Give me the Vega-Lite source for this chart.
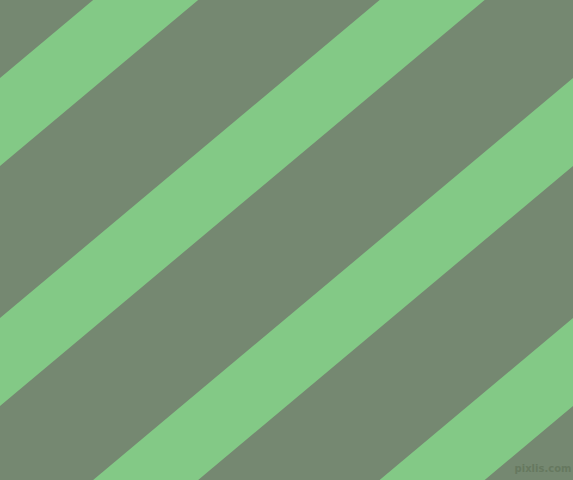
{
  "$schema": "https://vega.github.io/schema/vega-lite/v6.json",
  "description": "Diagonal light green stripes on a grey-green ground.",
  "width": 573,
  "height": 480,
  "autosize": {"type": "fit", "contains": "padding"},
  "padding": 0,
  "background": "#758871",
  "config": {"view": {"stroke": null}},
  "datasets": {
    "stripes": [
      {"band": 1, "x": 0, "top": 78, "bottom": 166},
      {"band": 1, "x": 573, "top": -402, "bottom": -314},
      {"band": 2, "x": 0, "top": 318, "bottom": 406},
      {"band": 2, "x": 573, "top": -162, "bottom": -74},
      {"band": 3, "x": 0, "top": 558, "bottom": 646},
      {"band": 3, "x": 573, "top": 78, "bottom": 166},
      {"band": 4, "x": 0, "top": 798, "bottom": 886},
      {"band": 4, "x": 573, "top": 318, "bottom": 406}
    ],
    "credit": [
      {"x": 543, "y": 469, "label": "pixlis.com"}
    ]
  },
  "layer": [
    {
      "data": {"name": "stripes"},
      "mark": {"type": "area", "color": "#83c986", "clip": true, "opacity": 1},
      "encoding": {
        "x": {"field": "x", "type": "quantitative", "scale": {"domain": [0, 573], "nice": false, "zero": false}, "axis": null},
        "y": {"field": "top", "type": "quantitative", "scale": {"domain": [0, 480], "nice": false, "zero": false, "reverse": true}, "axis": null},
        "y2": {"field": "bottom"},
        "detail": {"field": "band", "type": "nominal"}
      }
    },
    {
      "data": {"name": "credit"},
      "mark": {"type": "text", "font": "DejaVu Sans", "fontSize": 10, "fontWeight": "bold", "color": "#66785f", "align": "center", "baseline": "middle"},
      "encoding": {
        "x": {"field": "x", "type": "quantitative"},
        "y": {"field": "y", "type": "quantitative"},
        "text": {"field": "label"}
      }
    }
  ]
}
